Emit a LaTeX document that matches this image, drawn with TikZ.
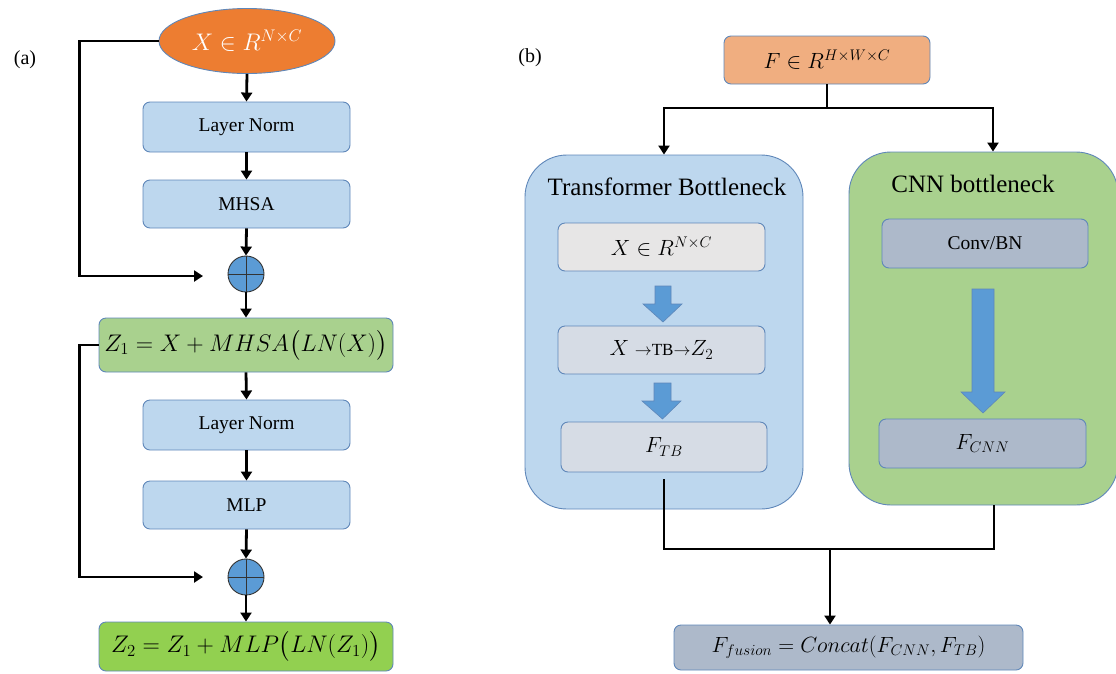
\RequirePackage{fix-cm}
\documentclass[tikz,border=0pt]{standalone}
\usepackage{amsmath}
\usepackage{fontspec}
\setmainfont{Liberation Serif}
\usetikzlibrary{arrows.meta,shapes.geometric}
\definecolor{lblue}{RGB}{189,215,238}
\definecolor{bordc}{RGB}{95,135,185}
\definecolor{greenA}{RGB}{169,209,142}
\definecolor{greenB}{RGB}{146,208,80}
\definecolor{orng}{RGB}{237,125,49}
\definecolor{peach}{RGB}{240,174,128}
\definecolor{grayA}{RGB}{231,230,230}
\definecolor{grayB}{RGB}{214,220,229}
\definecolor{slate}{RGB}{173,185,202}
\definecolor{barrowc}{RGB}{91,155,213}
\tikzset{
  box/.style={draw=bordc, line width=0.9pt, rounded corners=7pt, inner sep=0pt, align=center},
  lbox/.style={box, fill=lblue, minimum width=207pt, font=\fontsize{19.5}{22}\selectfont},
  cont/.style={draw=bordc, line width=0.9pt, rounded corners=42pt, inner sep=0pt},
  plusc/.style={circle, draw=black!80, line width=0.9pt, fill=barrowc, minimum size=36pt, inner sep=0pt},
  wire/.style={line width=2.8pt, black},
  conn/.style={wire, -{Triangle[length=9pt,width=11pt]}},
  barrow/.style={fill=barrowc, draw=bordc, line width=0.6pt},
  lbl/.style={font=\fontsize{20}{24}\selectfont},
  bigmath/.style={font=\fontsize{24}{29}\selectfont},
  midmath/.style={font=\fontsize{22}{26}\selectfont}
}
\begin{document}
\begin{tikzpicture}[x=1pt,y=-1pt]
\useasboundingbox (0,0) rectangle (1116,673);

% ---------- (a) ----------
\node[lbl] (la) at (25,60) {(a)};
\node[ellipse, fill=orng, draw=bordc, line width=0.9pt, minimum width=176pt, minimum height=65pt, inner sep=0pt, text=white, bigmath] (ell) at (247,41) {$X\in R^{N\times C}$};
\node[lbox, minimum height=50pt] (ln1) at (246.5,127) {Layer Norm};
\node[lbox, minimum height=48pt] (mhsa) at (246.5,204) {MHSA};
\node[plusc] (p1) at (246,274) {};
\draw[line width=0.9pt, black!80] (p1.north) -- (p1.south) (p1.west) -- (p1.east);
\node[box, fill=greenA, minimum width=294pt, minimum height=54pt, bigmath] (z1) at (246,345) {$Z_1 = X + MHSA\bigl(LN(X)\bigr)$};
\node[lbox, minimum height=50pt] (ln2) at (246.5,425) {Layer Norm};
\node[lbox, minimum height=48pt] (mlp) at (246.5,505) {MLP};
\node[plusc] (p2) at (246,577) {};
\draw[line width=0.9pt, black!80] (p2.north) -- (p2.south) (p2.west) -- (p2.east);
\node[box, fill=greenB, minimum width=294pt, minimum height=49pt, bigmath] (z2) at (246,646.5) {$Z_2 = Z_1 + MLP\bigl(LN(Z_1)\bigr)$};

\draw[conn] (ell.south) -- (ln1.north);
\draw[conn] (ln1.south) -- (mhsa.north);
\draw[conn] (mhsa.south) -- (p1.north);
\draw[conn] (p1.south) -- (z1.north);
\draw[conn] (z1.south) -- (ln2.north);
\draw[conn] (ln2.south) -- (mlp.north);
\draw[conn] (mlp.south) -- (p2.north);
\draw[conn] (p2.south) -- (z2.north);
\coordinate (e1) at (203,276);
\coordinate (e2) at (203,577);
\draw[conn] (ell.west) -- ++(-79,0) |- (e1);
\draw[conn] (z1.west) -- ++(-19,0) |- (e2);

% ---------- (b) ----------
\node[lbl] (lb) at (530,58) {(b)};
\node[box, fill=peach, minimum width=206pt, minimum height=48pt, midmath] (fbox) at (827,60) {$F\in R^{H\times W\times C}$};
\node[cont, fill=lblue, minimum width=278pt, minimum height=354pt] (tb) at (664,332) {};
\node[cont, fill=greenA, minimum width=269pt, minimum height=353pt] (cnn) at (983.5,328.5) {};
\node[font=\fontsize{25}{30}\selectfont] (tbt) at (667,187) {Transformer Bottleneck};
\node[font=\fontsize{25}{30}\selectfont] (cnnt) at (973,184) {CNN bottleneck};

\node[box, fill=grayA, minimum width=207pt, minimum height=48pt, midmath] (xb) at (661.5,247) {$X\in R^{N\times C}$};
\node[box, fill=grayB, minimum width=207pt, minimum height=48pt, midmath] (xtb) at (661.5,350) {$X$ {\fontsize{17}{20}\selectfont$\rightarrow$TB$\rightarrow$}$Z_2$};
\node[box, fill=grayB, minimum width=206pt, minimum height=50pt, midmath] (ftb) at (664,447) {$F_{TB}$};
\node[box, fill=slate, minimum width=206pt, minimum height=49pt, font=\fontsize{19.5}{22}\selectfont] (conv) at (985,243.5) {Conv/BN};
\node[box, fill=slate, minimum width=207pt, minimum height=49pt, midmath] (fcnn) at (982.5,443.5) {$F_{CNN}$};
\node[box, fill=slate, minimum width=349pt, minimum height=45pt, midmath] (ffus) at (848.5,647.5) {$F_{fusion} = Concat(F_{CNN}, F_{TB})$};

% block arrows
\filldraw[barrow] (655,286) -- (671,286) -- (671,304) -- (682,304) -- (663,322) -- (643,304) -- (655,304) -- cycle;
\filldraw[barrow] (654,383) -- (671,383) -- (671,401) -- (681,401) -- (662.5,419) -- (642,401) -- (654,401) -- cycle;
\filldraw[barrow] (972,289) -- (994,289) -- (994,392) -- (1005,392) -- (983,413) -- (961,392) -- (972,392) -- cycle;

% connectors
\coordinate (s) at (827,108);
\draw[conn] (fbox.south) -- (s) -| (tb.north);
\draw[conn] (s) -| ([xshift=9.5pt]cnn.north);
\coordinate (j1) at (664,549);
\coordinate (j2) at (994,549);
\coordinate (jm) at (830,549);
\draw[wire] ([yshift=-7pt]ftb.south) -- (j1) -- (j2) -- (j2 |- cnn.south);
\draw[conn] (jm) -- (jm |- ffus.north);
\end{tikzpicture}
\end{document}
